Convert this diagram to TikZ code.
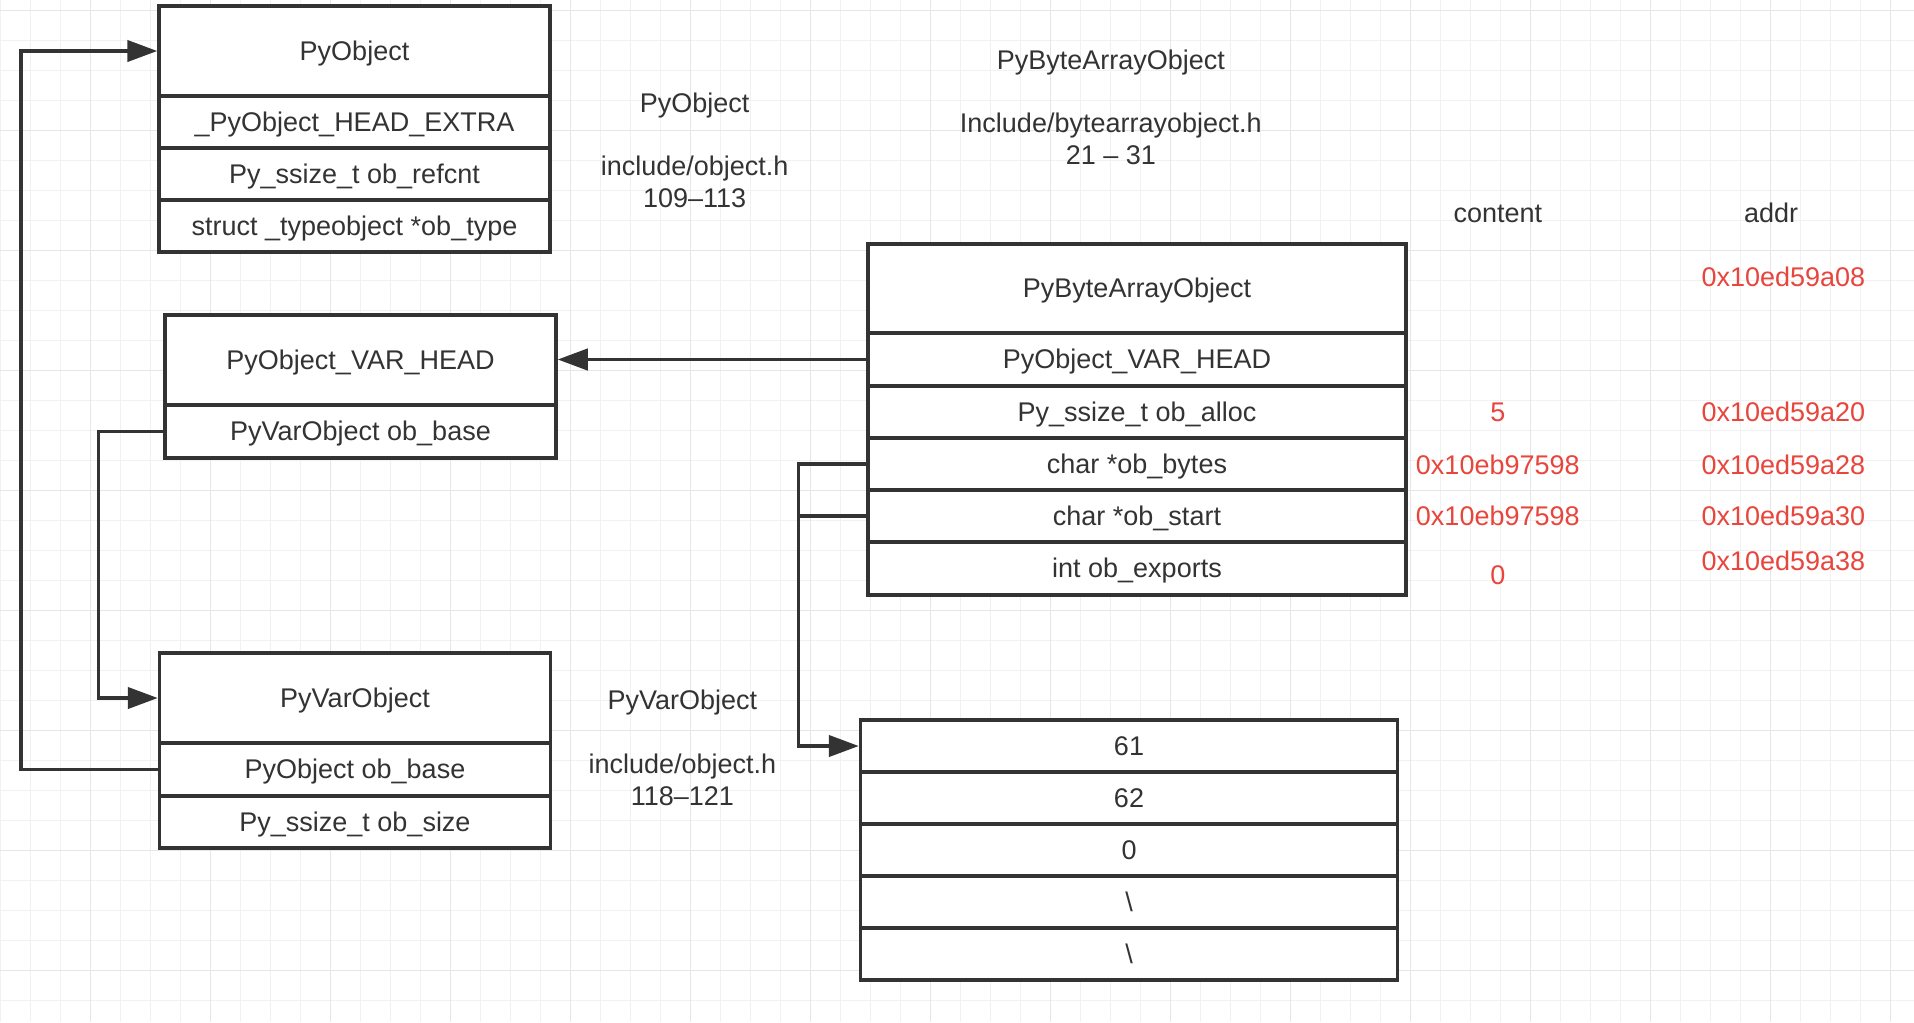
\documentclass[tikz,border=0pt]{standalone}
\usepackage{fontspec}
\setmainfont{Liberation Sans}
\usetikzlibrary{arrows.meta}
\definecolor{ln}{HTML}{333333}
\definecolor{txt}{HTML}{333333}
\definecolor{addrred}{HTML}{E8453C}
\definecolor{gminor}{HTML}{F1F1F1}
\definecolor{gmajor}{HTML}{E6E6E6}
\begin{document}
\begin{tikzpicture}[x=0.4pt,y=-0.4pt,
  cell/.style={draw=ln, line width=1.4pt, fill=white, text=txt, inner sep=0pt,
    text height=7.2pt, text depth=0pt, font=\fontsize{10.8}{12.8}\selectfont},
  conn/.style={draw=ln, line width=1.4pt},
  tip/.style={-{Triangle[length=12pt,width=8.5pt]}},
  lbl/.style={text=txt, align=center, inner sep=0pt, font=\fontsize{10.8}{12.7}\selectfont},
  hdr/.style={text=txt, inner sep=0pt, text height=7.2pt, text depth=0pt, font=\fontsize{10.8}{12.7}\selectfont},
  val/.style={text=addrred, inner sep=0pt, text height=7.2pt, text depth=0pt, font=\fontsize{10.8}{12.7}\selectfont}]
\useasboundingbox (0,0) rectangle (1914,1022);
\fill[white] (0,0) rectangle (1914,1022);
% grid
\foreach \x in {0.7,30.7,...,1914} \draw[gminor, line width=0.5pt] (\x,0) -- (\x,1022);
\foreach \y in {10.7,40.7,...,1022} \draw[gminor, line width=0.5pt] (0,\y) -- (1914,\y);
\foreach \x in {90.7,210.7,...,1914} \draw[gmajor, line width=0.6pt] (\x,0) -- (\x,1022);
\foreach \y in {10.7,130.7,...,1022} \draw[gmajor, line width=0.6pt] (0,\y) -- (1914,\y);

% PyObject
\node[cell, minimum width=391*0.4pt, minimum height=90*0.4pt] (A0) at (354.5,51) {PyObject};
\node[cell, minimum width=391*0.4pt, minimum height=52*0.4pt] (A1) at (354.5,122) {\_PyObject\_HEAD\_EXTRA};
\node[cell, minimum width=391*0.4pt, minimum height=52*0.4pt] (A2) at (354.5,174) {Py\_ssize\_t ob\_refcnt};
\node[cell, minimum width=391*0.4pt, minimum height=52*0.4pt] (A3) at (354.5,226) {struct \_typeobject *ob\_type};

% PyObject_VAR_HEAD
\node[cell, minimum width=391*0.4pt, minimum height=90*0.4pt] (B0) at (360.5,360) {PyObject\_VAR\_HEAD};
\node[cell, minimum width=391*0.4pt, minimum height=53*0.4pt] (B1) at (360.5,431.5) {PyVarObject ob\_base};

% PyVarObject
\node[cell, minimum width=391*0.4pt, minimum height=90*0.4pt] (C0) at (355,698) {PyVarObject};
\node[cell, minimum width=391*0.4pt, minimum height=53*0.4pt] (C1) at (355,769.5) {PyObject ob\_base};
\node[cell, minimum width=391*0.4pt, minimum height=52*0.4pt] (C2) at (355,822) {Py\_ssize\_t ob\_size};

% PyByteArrayObject
\node[cell, minimum width=538*0.4pt, minimum height=89*0.4pt] (D0) at (1137,288.5) {PyByteArrayObject};
\node[cell, minimum width=538*0.4pt, minimum height=53*0.4pt] (D1) at (1137,359.5) {PyObject\_VAR\_HEAD};
\node[cell, minimum width=538*0.4pt, minimum height=52*0.4pt] (D2) at (1137,412) {Py\_ssize\_t ob\_alloc};
\node[cell, minimum width=538*0.4pt, minimum height=52*0.4pt] (D3) at (1137,464) {char *ob\_bytes};
\node[cell, minimum width=538*0.4pt, minimum height=52*0.4pt] (D4) at (1137,516) {char *ob\_start};
\node[cell, minimum width=538*0.4pt, minimum height=53*0.4pt] (D5) at (1137,568.5) {int ob\_exports};

% byte buffer
\node[cell, minimum width=537*0.4pt, minimum height=52*0.4pt] (E0) at (1129,746) {61};
\node[cell, minimum width=537*0.4pt, minimum height=52*0.4pt] (E1) at (1129,798) {62};
\node[cell, minimum width=537*0.4pt, minimum height=52*0.4pt] (E2) at (1129,850) {0};
\node[cell, minimum width=537*0.4pt, minimum height=52*0.4pt] (E3) at (1129,902) {\textbackslash};
\node[cell, minimum width=537*0.4pt, minimum height=52*0.4pt] (E4) at (1129,954) {\textbackslash};

% connectors
\draw[conn, tip] (C1.west) -- ++(-137,0) |- (A0.west);
\draw[conn, tip] (B1.west) -- ++(-65,0) |- (C0.west);
\draw[conn, tip] (D1.west) -- (B0.east |- D1.west);
\draw[conn, tip] (D3.west) -- ++(-68,0) |- (E0.west);
\draw[conn] (D4.west) -- ++(-68,0);

% labels
\node[lbl] (L1) at (694.6,150) {PyObject\\[12.7pt]include/object.h\\109–113};
\node[lbl] (L2) at (1110.8,107.3) {PyByteArrayObject\\[12.7pt]Include/bytearrayobject.h\\21 – 31};
\node[lbl] (L3) at (682.4,747.5) {PyVarObject\\[12.9pt]include/object.h\\118–121};

\node[hdr] (hc) at (1497.8,213.6) {content};
\node[hdr] (ha) at (1771.2,213.6) {addr};

\node[val] (a0) at (1783.4,277.1) {0x10ed59a08};
\node[val] (c2) at (1497.8,412.6) {5};
\node[val] (a2) at (1783.4,412.6) {0x10ed59a20};
\node[val] (c3) at (1497.8,465.1) {0x10eb97598};
\node[val] (a3) at (1783.4,465.1) {0x10ed59a28};
\node[val] (c4) at (1497.8,516.4) {0x10eb97598};
\node[val] (a4) at (1783.4,516.4) {0x10ed59a30};
\node[val] (a5) at (1783.4,561.5) {0x10ed59a38};
\node[val] (c5) at (1497.8,575) {0};
\end{tikzpicture}
\end{document}
